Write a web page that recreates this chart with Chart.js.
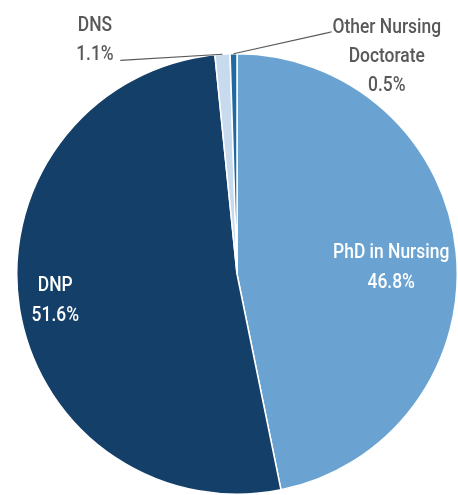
<!DOCTYPE html>
<html>
<head>
<meta charset="utf-8">
<script src="https://cdn.jsdelivr.net/npm/chart.js@4.4.1/dist/chart.umd.min.js"></script>
<style>
html,body{margin:0;padding:0;background:#fff;}
#wrap{width:458px;height:495px;position:relative;}
</style>
</head>
<body>
<div id="wrap"><canvas id="c" width="458" height="495"></canvas></div>
<script>
const categories = ["PhD in Nursing", "DNP", "DNS", "Other Nursing Doctorate"];
const values = [46.8, 51.6, 1.1, 0.5];
const labelLines = [["PhD in Nursing", "46.8%"], ["DNP", "51.6%"], ["DNS", "1.1%"], ["Other Nursing", "Doctorate", "0.5%"]];
const colors = ["#6aa3d1", "#143f69", "#c7daee", "#1f6aa1"];

const FONT = '500 21px Roboto, "DejaVu Sans", sans-serif';
const SQUEEZE = 0.83;

function condensedText(ctx, t, x, y) {
  ctx.save();
  ctx.translate(x, y);
  ctx.scale(SQUEEZE, 1);
  ctx.fillText(t, 0, 0);
  ctx.restore();
}

const labelPlugin = {
  id: 'pieLabels',
  afterDatasetsDraw(chart) {
    const ctx = chart.ctx;
    const meta = chart.getDatasetMeta(0);
    const a0 = meta.data[0];
    const cx = a0.x, cy = a0.y, R = a0.outerRadius;
    ctx.save();
    ctx.textAlign = 'center';
    ctx.textBaseline = 'middle';
    ctx.font = FONT;
    const lh = 30;
    const inside = {0: [0.70, -0.03], 1: [-0.825, 0.12]};
    Object.keys(inside).forEach(i => {
      const [fx, fy] = inside[i];
      const x = cx + fx * R, y = cy + fy * R;
      ctx.fillStyle = '#ffffff';
      const lines = labelLines[i];
      lines.forEach((t, k) => condensedText(ctx, t, x, y + (k - (lines.length - 1) / 2) * lh));
    });
    ctx.strokeStyle = '#595959';
    ctx.lineWidth = 1.2;
    ctx.fillStyle = '#595959';
    const outside = {
      2: {end: [-0.53, -0.97], text: [-0.645, -1.127]},
      3: {end: [0.41, -1.095], end2: [0.43, -1.10], text: [0.68, -1.12]}
    };
    Object.keys(outside).forEach(i => {
      const arc = meta.data[i];
      const mid = (arc.startAngle + arc.endAngle) / 2;
      const sx = cx + Math.cos(mid) * R, sy = cy + Math.sin(mid) * R;
      const o = outside[i];
      ctx.beginPath();
      ctx.moveTo(sx, sy);
      ctx.lineTo(cx + o.end[0] * R, cy + o.end[1] * R);
      if (o.end2) ctx.lineTo(cx + o.end2[0] * R, cy + o.end2[1] * R);
      ctx.stroke();
      const lines = labelLines[i];
      const tx = cx + o.text[0] * R, ty0 = cy + o.text[1] * R;
      lines.forEach((t, k) => condensedText(ctx, t, tx, ty0 + k * 29));
    });
    ctx.restore();
  }
};

new Chart(document.getElementById('c'), {
  type: 'pie',
  data: {
    labels: categories,
    datasets: [{
      data: values,
      backgroundColor: colors,
      borderColor: '#ffffff',
      borderWidth: 1.5
    }]
  },
  options: {
    responsive: false,
    animation: false,
    layout: {padding: {top: 53, left: 16, right: 0, bottom: 0}},
    plugins: {legend: {display: false}, tooltip: {enabled: false}}
  },
  plugins: [labelPlugin]
});
</script>
</body>
</html>
